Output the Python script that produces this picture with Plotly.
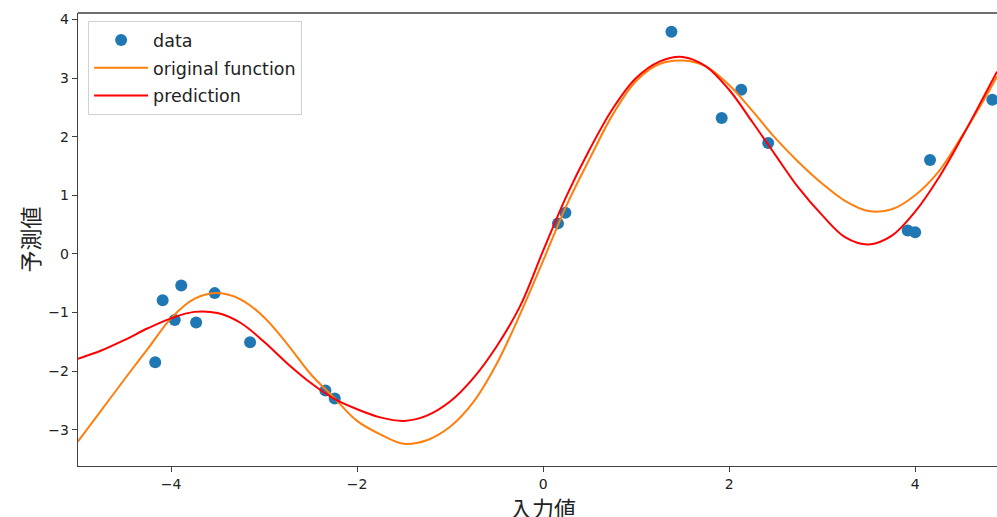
import plotly.graph_objects as go

# ---- data ----
data_x = [-4.17, -4.09, -3.89, -3.96, -3.73, -3.53, -3.15, -2.34, -2.24,
          0.16, 0.24, 1.38, 1.92, 2.13, 2.42, 3.92, 4.00, 4.16, 4.83]
data_y = [-1.85, -0.79, -0.54, -1.13, -1.17, -0.67, -1.51, -2.33, -2.47,
          0.52, 0.70, 3.79, 2.32, 2.80, 1.89, 0.40, 0.37, 1.60, 2.63]

curve_x = [-5.0, -4.75, -4.5, -4.25, -4.0, -3.75, -3.5, -3.25, -3.0, -2.75,
           -2.5, -2.25, -2.0, -1.75, -1.5, -1.25, -1.0, -0.75, -0.5, -0.25,
           0.0, 0.25, 0.5, 0.75, 1.0, 1.25, 1.5, 1.75, 2.0, 2.25,
           2.5, 2.75, 3.0, 3.25, 3.5, 3.75, 4.0, 4.25, 4.5, 4.75, 4.88]

original_y = [-3.20, -2.67, -2.14, -1.62, -1.10, -0.77, -0.67, -0.78, -1.08, -1.54,
              -2.05, -2.45, -2.85, -3.08, -3.24, -3.18, -2.95, -2.53, -1.88, -1.04,
              -0.12, 0.82, 1.62, 2.38, 2.95, 3.24, 3.30, 3.20, 2.88, 2.44,
              1.97, 1.56, 1.20, 0.90, 0.73, 0.76, 1.00, 1.40, 2.00, 2.66, 3.03]

prediction_y = [-1.79, -1.65, -1.47, -1.27, -1.10, -0.99, -1.01, -1.18, -1.50, -1.87,
                -2.20, -2.47, -2.65, -2.79, -2.85, -2.76, -2.52, -2.12, -1.58, -0.90,
                0.05, 0.98, 1.78, 2.48, 3.00, 3.28, 3.36, 3.20, 2.80, 2.25,
                1.68, 1.12, 0.66, 0.28, 0.16, 0.31, 0.72, 1.29, 1.98, 2.72, 3.11]

x_ticks = [-4, -2, 0, 2, 4]
y_ticks = [-3, -2, -1, 0, 1, 2, 3, 4]
x_title = "入力値"
y_title = "予測値"

CJK = "Noto Sans CJK JP, Noto Sans, sans-serif"
LATIN = "DejaVu Sans, sans-serif"
AXIS = "#404040"
TXT = "#222222"

fig = go.Figure()
fig.add_trace(go.Scatter(x=data_x, y=data_y, mode="markers", name="data",
                         legendgroup="a",
                         marker=dict(color="#1f77b4", size=12)))
fig.add_trace(go.Scatter(x=curve_x, y=original_y, mode="lines", name="original function",
                         legendgroup="b",
                         line=dict(color="#ff7f0e", width=2, shape="spline", smoothing=1.0)))
fig.add_trace(go.Scatter(x=curve_x, y=prediction_y, mode="lines", name="prediction",
                         legendgroup="c",
                         line=dict(color="#ff0000", width=2, shape="spline", smoothing=1.0)))

fig.update_layout(
    width=997, height=517,
    margin=dict(l=78, r=0, t=13, b=51),
    paper_bgcolor="white", plot_bgcolor="white",
    font=dict(family=LATIN, color=TXT, size=14),
    showlegend=True,
    legend=dict(x=0.011, y=0.982, xanchor="left", yanchor="top",
                traceorder="grouped", tracegroupgap=2, itemwidth=54,
                bgcolor="rgba(255,255,255,0.9)", bordercolor="#d0d0d0", borderwidth=1,
                font=dict(size=17.5, family=LATIN, color=TXT)),
    xaxis=dict(range=[-5, 4.88], tickvals=x_ticks, showgrid=False, zeroline=False,
               showline=True, linecolor=AXIS, linewidth=1.4,
               ticks="outside", ticklen=5, tickcolor=AXIS,
               tickfont=dict(size=14, family=LATIN, color=TXT)),
    yaxis=dict(range=[-3.62, 4.11], tickvals=y_ticks, showgrid=False, zeroline=False,
               showline=True, linecolor=AXIS, linewidth=1.4,
               ticks="outside", ticklen=5, tickcolor=AXIS,
               tickfont=dict(size=14, family=LATIN, color=TXT)),
    shapes=[dict(type="line", xref="paper", yref="paper", x0=0, x1=1, y0=1, y1=1,
                 line=dict(color=AXIS, width=1.4))],
    annotations=[
        dict(text=x_title, xref="x", yref="paper", x=0, y=0, yshift=-41,
             showarrow=False, xanchor="center", yanchor="middle",
             font=dict(size=22, family=CJK, color=TXT)),
        dict(text=y_title, xref="paper", yref="paper", x=0, y=0.5, xshift=-50,
             showarrow=False, textangle=-90, xanchor="center", yanchor="middle",
             font=dict(size=22, family=CJK, color=TXT)),
    ],
)

fig.write_html("out.html")
